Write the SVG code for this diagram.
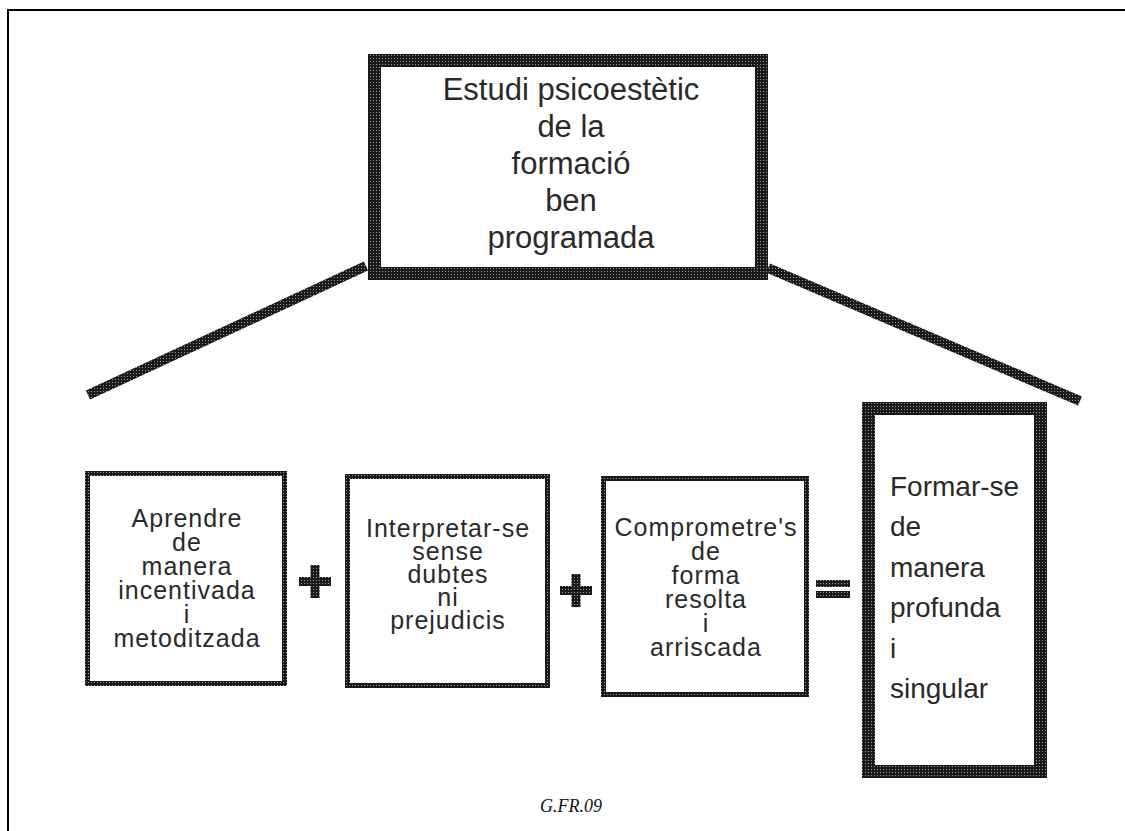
<svg xmlns="http://www.w3.org/2000/svg" width="1125" height="831" viewBox="0 0 1125 831">
<defs>
<pattern id="ht" width="3" height="3" patternUnits="userSpaceOnUse">
<rect width="3" height="3" fill="#1a1a1a"/>
<rect x="1" y="1" width="1" height="1" fill="#9a9a9a"/>
</pattern>
</defs>
<style>
.frame{fill:none;stroke:#000;stroke-width:2}
.thick{fill:none;stroke:url(#ht);stroke-width:13}
.thin{fill:none;stroke:url(#ht);stroke-width:5}
.conn{stroke:url(#ht);stroke-width:10;fill:none;stroke-linecap:butt}
.op{fill:url(#ht)}
.t{font-family:"Liberation Sans",Arial,sans-serif;fill:#2a2a2a;text-anchor:middle}
.tt{font-size:31px}
.tb{font-size:25px;letter-spacing:1px}
.tf{font-size:28px;text-anchor:start}
.cap{font-family:"Liberation Serif","Times New Roman",serif;font-style:italic;font-size:18px;fill:#111;text-anchor:middle}
</style>
<rect width="1125" height="831" fill="#fff"/>
<path class="frame" d="M8 831 V10 H1125"/>
<g id="connectors">
<line class="conn" x1="366" y1="266" x2="88" y2="395"/>
<line class="conn" x1="768" y1="268" x2="1080" y2="401"/>
</g>
<g id="top">
<rect class="thick" x="374.5" y="60.5" width="387" height="213"/>
<text class="t tt" x="571"><tspan x="571" y="100">Estudi psicoestètic</tspan><tspan x="571" y="137">de la</tspan><tspan x="571" y="174">formació</tspan><tspan x="571" y="211">ben</tspan><tspan x="571" y="248">programada</tspan></text>
</g>
<g id="box1">
<rect class="thin" x="87.5" y="473.5" width="197" height="210"/>
<text class="t tb"><tspan x="187" y="527">Aprendre</tspan><tspan x="187" y="551">de</tspan><tspan x="187" y="575">manera</tspan><tspan x="187" y="599">incentivada</tspan><tspan x="187" y="623">i</tspan><tspan x="187" y="647">metoditzada</tspan></text>
</g>
<g id="plus1">
<rect class="op" x="299" y="577" width="32" height="9"/>
<rect class="op" x="310.5" y="565" width="9" height="33"/>
</g>
<g id="box2">
<rect class="thin" x="347.5" y="476.5" width="200" height="209"/>
<text class="t tb"><tspan x="448" y="537">Interpretar-se</tspan><tspan x="448" y="560">sense</tspan><tspan x="448" y="583">dubtes</tspan><tspan x="448" y="606">ni</tspan><tspan x="448" y="629">prejudicis</tspan></text>
</g>
<g id="plus2">
<rect class="op" x="560" y="586" width="32" height="9"/>
<rect class="op" x="571.5" y="574" width="9" height="33"/>
</g>
<g id="box3">
<rect class="thin" x="603.5" y="478.5" width="203" height="216"/>
<text class="t tb"><tspan x="706" y="536">Comprometre's</tspan><tspan x="706" y="560">de</tspan><tspan x="706" y="584">forma</tspan><tspan x="706" y="608">resolta</tspan><tspan x="706" y="632">i</tspan><tspan x="706" y="656">arriscada</tspan></text>
</g>
<g id="equals">
<rect class="op" x="816" y="580" width="34" height="7"/>
<rect class="op" x="816" y="591" width="34" height="7"/>
</g>
<g id="result">
<rect class="thick" x="868.5" y="408.5" width="172" height="363"/>
<text class="t tf"><tspan x="890" y="496">Formar-se</tspan><tspan x="890" y="536">de</tspan><tspan x="890" y="577">manera</tspan><tspan x="890" y="617">profunda</tspan><tspan x="890" y="658">i</tspan><tspan x="890" y="698">singular</tspan></text>
</g>
<text class="cap" x="571" y="812">G.FR.09</text>
</svg>
